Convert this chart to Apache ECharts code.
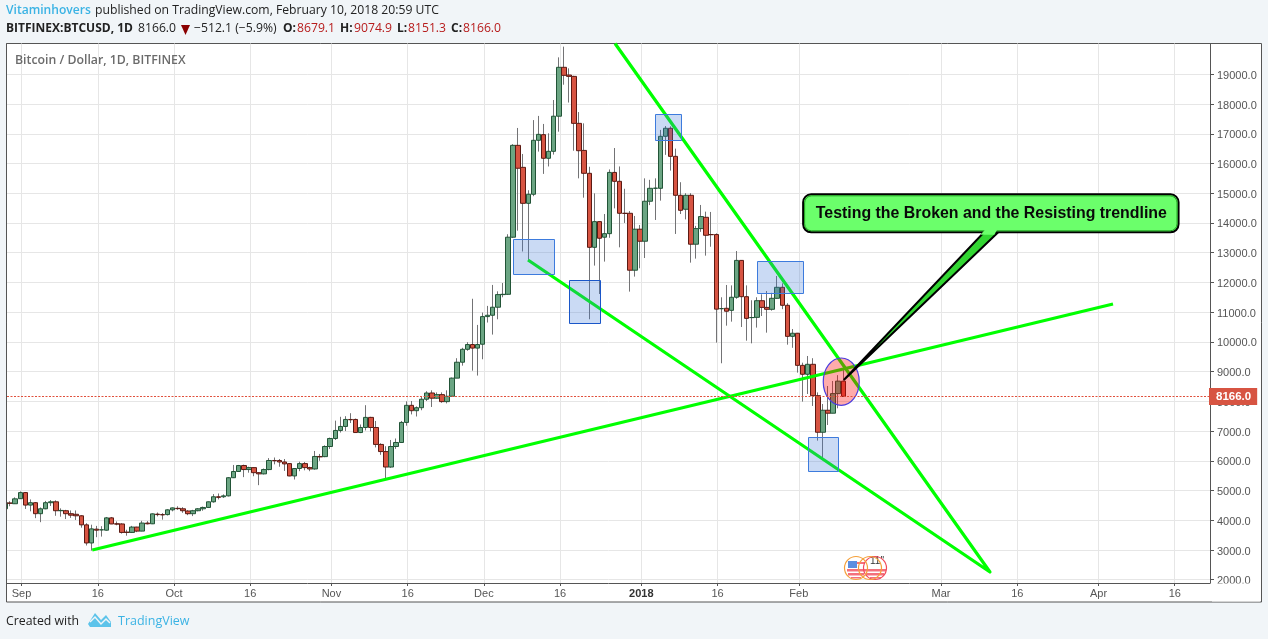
<!DOCTYPE html>
<html><head><meta charset="utf-8">
<style>html,body{margin:0;padding:0;background:#f1f5f8}#c{width:1268px;height:639px}</style>
<script src="https://cdn.jsdelivr.net/npm/echarts@6/dist/echarts.min.js"></script>
</head><body><div id="c"></div>
<script>
// Days counted from 1 Sep 2017; the first candle is 29 Aug 2017 (day -3), the last 10 Feb 2018.
const firstDay = -3;
const opens = [4385,4580,4555,
4725,4930,4510,4590,4220,4385,4590,4620,4320,4320,4220,4200,4150,3845,3235,3700,3675,3665,4080,3880,3875,3600,3590,3770,3635,3905,3880,4205,4190,4190,
4350,4400,4385,4310,4220,4320,4385,4430,4620,4790,4790,4820,5430,5640,5840,5705,5770,5600,5560,5705,6010,6010,5960,5905,5490,5740,5905,5770,5725,6145,6140,
6480,6750,7020,7155,7390,7390,6950,7120,7460,7120,6550,6310,5790,6480,6615,7290,7865,7685,7785,8070,8280,8105,8225,7990,8170,8780,9315,9750,9910,9790,
9920,10850,10895,11165,11590,11600,13520,16610,15870,14660,14965,16780,16970,16175,16410,17590,19235,18975,18930,17350,16440,15670,13180,14045,13520,13640,15700,15400,14325,14325,12410,
13790,13385,14730,15165,15165,16915,17185,16240,14930,14460,14930,13285,13810,14190,13610,13610,11115,11130,11060,11500,12740,11520,10815,10825,11385,11160,11095,11465,11835,11230,10185,
10290,9210,8910,9245,8190,6960,7700,7600,8260,8679.1];
const closes = [4588,4570,4720,
4930,4510,4590,4220,4385,4590,4620,4320,4330,4220,4170,4150,3845,3235,3710,3665,3680,4080,3875,3870,3590,3590,3770,3635,3905,3880,4215,4190,4180,4350,
4415,4390,4320,4220,4320,4385,4430,4620,4790,4770,4820,5430,5640,5840,5705,5770,5600,5560,5705,6010,6000,5960,5895,5490,5740,5905,5770,5725,6145,6130,6480,
6750,7020,7155,7390,7380,6950,7120,7460,7120,6550,6310,5790,6480,6615,7290,7865,7685,7785,8070,8280,8105,8225,7990,8170,8780,9315,9750,9910,9790,9910,
10850,10895,11165,11590,11600,13520,16610,15840,14660,14965,16780,16980,16175,16410,17590,19235,18965,18930,17350,16430,15670,13180,14045,13485,13640,15700,15400,14325,14320,12410,13790,
13385,14730,15165,15170,16915,17185,16240,14930,14425,14930,13285,13810,14215,13585,13605,11100,11120,11030,11500,12740,11520,10790,10820,11385,11160,11095,11465,11835,11230,10185,10290,
9210,8910,9245,8190,6960,7700,7600,8260,8679,8166.0];
const lows = [4310,4470,4550,
4720,4380,4300,4070,3935,4370,4480,4150,4120,4040,4080,4010,3750,3150,2980,3430,3450,3650,3870,3830,3550,3480,3570,3600,3630,3860,3870,4130,4020,4160,
4300,4350,4250,4170,4140,4300,4320,4420,4590,4700,4750,4800,5420,5640,5450,5600,5480,5180,5540,5680,5880,5800,5660,5480,5370,5650,5680,5650,5700,6000,6120,
6400,6700,6950,7000,7270,6940,6930,7020,6990,6450,6200,5420,5760,6400,6600,7180,7560,7490,7700,8010,7810,8090,7950,7930,8150,8780,9200,9700,9030,8866,
9415,10650,10245,10760,11500,11580,13500,13740,13040,12760,14900,16400,15650,15900,16300,17070,18650,18050,16430,15500,14850,10760,12565,11610,12700,13500,14490,13180,14000,11690,12195,
12475,12820,14600,14100,14750,16290,15760,13630,14300,14120,12665,12800,13700,12900,13200,9975,9280,10545,10680,11450,10500,10040,9950,10480,10870,10310,11050,11450,11100,9906,9800,
8965,7990,8247,7844,6678,6084,7204,7600,7765,8151.3];
const highs = [4625,4640,4770,
4970,4950,4700,4610,4430,4650,4680,4670,4400,4350,4330,4330,4170,3900,3850,3810,3800,4110,4110,3960,3900,3680,3810,3780,3980,3970,4230,4260,4240,4370,
4430,4470,4440,4340,4350,4410,4460,4630,4880,4900,4870,5450,5860,5860,5870,5800,5780,5620,5740,6090,6110,6060,6060,5920,5750,5970,5960,5800,6330,6230,6520,
6780,7350,7480,7500,7600,7420,7220,7870,7480,7340,6590,6490,6700,6750,7340,8000,8010,7830,8150,8340,8370,8300,8300,8370,8800,9450,9800,9990,11450,10570,
10985,11210,11915,11700,11980,13620,16650,17195,16320,15100,17460,17600,17330,17015,18135,19570,19930,19200,18950,17730,17350,15890,14995,14050,14300,15800,16520,15900,15150,14400,14235,
13930,15500,15450,15500,17130,17260,17250,16500,15370,15000,15000,13900,14605,14380,14370,13650,11500,11913,11900,13056,12750,11900,11400,11500,11600,11710,11650,12215,11970,11300,10433,
10300,9300,9525,9450,8300,7910,8516,8684,8880,9074.9];
const lastPrice = 8166.0;

const xTickDays   = [0,15,30,45,61,76,91,106,122,137,153,181,196,212,227];
const xTickLabels = ['Sep','16','Oct','16','Nov','16','Dec','16','2018','16','Feb','Mar','16','Apr','16'];
const yTicks = [2000,3000,4000,5000,6000,7000,8000,9000,10000,11000,12000,13000,14000,15000,16000,17000,18000,19000];

// Drawings, in [day, price] chart coordinates
const risingTrend = [[14.17,2999],[215.1,11273]];
const wedgeTrend  = [[117.07,20036],[190.88,2259],[99.94,12753]];
const boxes = [[97.05,13450,105.2,12259],[108.07,12071,114.17,10611],[125,17654,130.12,16766],[145.08,12710,154.2,11620],[155.12,6790,161.1,5646]];
const ellipseSpot = [[161.6,8660,3.54,797]];
const calloutBox = [[154.1,14963,228,13685]];
const calloutTail = [[189.7,13685],[192.5,13685],[162.1,8717]];
const calloutText = 'Testing the Broken and the Resisting trendline';

const xMin=-2.618, xMax=234.19, yMin=1889, yMax=20036, gridShift=0.25;

const days = opens.map((_,i)=>firstDay+i);
const wickData = days.map((d,i)=>[d,opens[i],closes[i],lows[i],highs[i]]);
const bodyData = days.map((d,i)=>[d,opens[i],closes[i],Math.min(opens[i],closes[i]),Math.max(opens[i],closes[i])]);

const uiFont='"Open Sans",sans-serif', axFont='"Liberation Sans",Arial,sans-serif';
const txt=(x,y,text,fill,size,weight,family)=>({type:'text',z:30,x,y,style:{text,fill,font:(weight||'normal')+' '+(size||12.2)+'px '+(family||uiFont),textVerticalAlign:'middle'}});
const ring=(cx,cy,r,stroke)=>({type:'circle',z:31,shape:{cx,cy,r},style:{fill:'none',stroke,lineWidth:1.2}});
const stripe=(x,y,w,h,fill)=>({type:'rect',z:30,shape:{x,y,width:w,height:h},style:{fill}});

const chart=echarts.init(document.getElementById('c'),null,{renderer:'canvas'});
chart.setOption({
  animation:false,
  backgroundColor:'#f1f5f8',
  grid:{left:7,top:43.5,width:1203,height:539.5,containLabel:false},
  xAxis:{type:'value',min:xMin,max:xMax,
    axisLine:{onZero:false,lineStyle:{color:'#555',width:1}},
    axisTick:{length:3,lineStyle:{color:'#555'},customValues:xTickDays.map(d=>d+gridShift)},
    splitLine:{show:true,lineStyle:{color:'#e6e6e6',width:1}},
    axisLabel:{color:'#555',fontFamily:axFont,fontSize:11,margin:5,showMinLabel:true,showMaxLabel:true,hideOverlap:false,
      customValues:xTickDays.map(d=>d+gridShift),
      formatter:v=>{const s=xTickLabels[xTickDays.indexOf(Math.round(v-gridShift))];return s==='2018'?'{y|2018}':s;},
      rich:{y:{fontWeight:'bold',color:'#333',fontFamily:axFont,fontSize:11}}}
  },
  yAxis:{type:'value',position:'right',min:yMin,max:yMax,
    axisLine:{show:true,onZero:false,lineStyle:{color:'#555',width:1}},
    axisTick:{show:true,length:4,lineStyle:{color:'#555'},customValues:yTicks},
    splitLine:{show:true,lineStyle:{color:'#e6e6e6',width:1}},
    axisLabel:{color:'#555',fontFamily:axFont,fontSize:11,margin:7,customValues:yTicks,showMinLabel:true,showMaxLabel:true,hideOverlap:false,
      formatter:v=>'{a|'+v.toFixed(1)+'}',
      rich:{a:{color:'#555',fontFamily:axFont,fontSize:11,padding:[3,0,0,0]}}}
  },
  series:[
    {name:'wicks',type:'candlestick',silent:true,barWidth:1,data:wickData,encode:{x:0,y:[1,2,3,4]},z:2,
      itemStyle:{color:'#737375',color0:'#737375',borderColor:'#737375',borderColor0:'#737375',borderWidth:1}},
    {name:'bodies',type:'candlestick',silent:true,barWidth:5,data:bodyData,encode:{x:0,y:[1,2,3,4]},z:3,
      itemStyle:{color:'#6BA583',color0:'#D75442',borderColor:'#225437',borderColor0:'#5B1A13',borderWidth:1}},
    {name:'price',type:'line',silent:true,data:[],z:4,
      markLine:{silent:true,symbol:'none',animation:false,z:20,precision:1,
        lineStyle:{color:'#e0503c',type:[2,1.5],width:1},
        data:[{yAxis:lastPrice}],
        label:{show:true,position:'end',distance:0,formatter:lastPrice.toFixed(1),color:'#fff',backgroundColor:'#D75442',fontFamily:axFont,fontWeight:'bold',fontSize:11.5,padding:[3,6,2,7],offset:[-1,0]}}},
    {name:'rising',type:'line',silent:true,symbol:'none',data:risingTrend,z:5,lineStyle:{color:'#00ff00',width:3.2}},
    {name:'wedge',type:'line',silent:true,symbol:'none',data:wedgeTrend,z:5,lineStyle:{color:'#00ff00',width:3.2,join:'round'}},
    {name:'boxes',type:'custom',silent:true,data:boxes,z:6,encode:{x:[0,2],y:[1,3]},
      renderItem:(p,api)=>{const a=api.coord([api.value(0),api.value(1)]),b=api.coord([api.value(2),api.value(3)]);
        return {type:'rect',shape:{x:Math.round(a[0])+.5,y:Math.round(a[1])+.5,width:Math.round(b[0]-a[0]),height:Math.round(b[1]-a[1])},
          style:{fill:'rgba(60,120,216,0.27)',stroke:p.dataIndex===1?'#1a56c8':'#3d7bdd',lineWidth:1}};}},
    {name:'spot',type:'custom',silent:true,data:ellipseSpot,z:7,encode:{x:0,y:1},
      renderItem:(p,api)=>{const c=api.coord([api.value(0),api.value(1)]),e=api.coord([api.value(0)+api.value(2),api.value(1)+api.value(3)]);
        return {type:'ellipse',shape:{cx:c[0],cy:c[1],rx:e[0]-c[0],ry:c[1]-e[1]},style:{fill:'rgba(255,0,0,0.33)',stroke:'#4a3de0',lineWidth:1.2}};}},
    {name:'callout',type:'custom',silent:true,data:calloutBox,z:8,clip:false,encode:{x:[0,2],y:[1,3]},
      renderItem:(p,api)=>{const a=api.coord([api.value(0),api.value(1)]),b=api.coord([api.value(2),api.value(3)]);
        const tail=calloutTail.map(t=>api.coord(t));
        const w=b[0]-a[0],h=b[1]-a[1];
        return {type:'group',children:[
          {type:'polygon',shape:{points:tail},style:{fill:'#33d633',stroke:'#000',lineWidth:2,lineJoin:'miter'}},
          {type:'rect',shape:{x:a[0],y:a[1],width:w,height:h,r:8},style:{fill:'#6bff6b',stroke:'#000',lineWidth:2}},
          {type:'rect',shape:{x:a[0]+1.5,y:a[1]+1.5,width:w-3,height:h-3,r:7},style:{fill:'none',stroke:'#22a022',lineWidth:1}},
          {type:'polygon',shape:{points:[[tail[0][0]+1,tail[0][1]-2.5],[tail[1][0]-1,tail[1][1]-2.5],[tail[1][0]-4,tail[1][1]+2.5],[tail[0][0]-3.5,tail[0][1]+2.5]]},style:{fill:'#6bff6b'}},
          {type:'text',style:{text:calloutText,x:a[0]+w/2+0.5,y:a[1]+h/2+0.5,textAlign:'center',textVerticalAlign:'middle',fill:'#0a0a0a',font:'bold 15.9px '+axFont}}
        ]};}}
  ],
  graphic:[
    {type:'rect',z:-5,silent:true,shape:{x:6.5,y:43.5,width:1255,height:558.5},style:{fill:'#fff',stroke:'#555',lineWidth:1}},
    {type:'rect',z:25,silent:true,shape:{x:1212,y:583.5,width:48,height:18},style:{fill:'#fff'}},
    {type:'rect',z:25,silent:true,shape:{x:0,y:44,width:6,height:558},style:{fill:'#f1f5f8'}},
    {type:'line',z:26,silent:true,shape:{x1:6.5,y1:43.5,x2:6.5,y2:602},style:{stroke:'#555',lineWidth:1}},
    txt(6,11,'Vitaminhovers','#3bb3e4',12.1,'600'),
    txt(95,11,'published on TradingView.com, February 10, 2018 20:59 UTC','#222'),
    txt(6,29,'BITFINEX:BTCUSD, 1D','#222',12,'700'),
    txt(138,29,'8166.0','#222'),
    {type:'polygon',z:30,shape:{points:[[181,25],[190,25],[185.5,35]]},style:{fill:'#8b0000'}},
    txt(194,29,'\u2212512.1 (\u22125.9%)','#222'),
    txt(283,29,'O:','#222',12,'700'),txt(297,29,'8679.1','#b71c1c'),
    txt(340,29,'H:','#222',12,'700'),txt(354,29,'9074.9','#b71c1c'),
    txt(397,29,'L:','#222',12,'700'),txt(408,29,'8151.3','#b71c1c'),
    txt(451,29,'C:','#222',12,'700'),txt(463,29,'8166.0','#b71c1c'),
    txt(15,60,'Bitcoin / Dollar, 1D, BITFINEX','#6b6b6b',12.3,'600'),
    txt(6,621,'Created with','#222',12.3),
    txt(118,621,'TradingView','#3bb3e4',12.5),
    {type:'polygon',z:30,shape:{points:[[88,624],[95,613],[101,620],[106,615],[111,622],[111,627],[90,627]]},style:{fill:'#5cc3ea'}},
    {type:'polyline',z:31,shape:{points:[[90,622],[95,617],[101,624],[106,619],[110,623]]},style:{fill:'none',stroke:'#f1f5f8',lineWidth:1.5}},
    // earnings / economic-event flags
    stripe(866,569,20,2.5,'#f4707c'),stripe(866,573,18,2.5,'#f4707c'),stripe(870,577,11,1.5,'#f4707c'),
    stripe(848,561,9,7,'#5c8fe0'),stripe(857,562,8,2,'#f4707c'),stripe(847,569,19,2.5,'#f4707c'),stripe(848,573,16,2.5,'#f4707c'),stripe(851,577,10,1.5,'#f4707c'),
    ring(875,568,11.5,'#f24a5a'),ring(870,568,11.5,'#f5a03a'),ring(856,568,11.5,'#f5a03a'),
    txt(870,561,"11''",'#333',10,'normal',axFont)
  ]
});
</script></body></html>
